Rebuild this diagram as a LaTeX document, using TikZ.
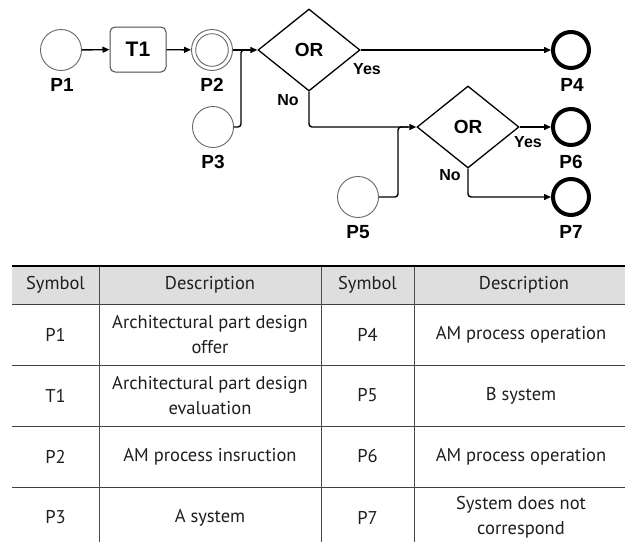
\documentclass[tikz,border=0pt]{standalone}
\usepackage{fontspec}
\setmainfont{PT Sans}
\newfontfamily\arial{Liberation Sans}
\usetikzlibrary{shapes.geometric,arrows.meta}
\tikzset{
  place/.style={circle, draw=black!60, line width=0.9pt, minimum size=41pt, inner sep=0pt},
  final/.style={circle, draw=black, line width=4pt, minimum size=36pt, inner sep=0pt},
  trans/.style={rectangle, rounded corners=5pt, draw=black!70, line width=1pt, minimum width=56pt, minimum height=45pt, inner sep=0pt, font=\arial\bfseries\fontsize{21}{21}\selectfont},
  gate/.style={diamond, draw=black, line width=1.3pt, minimum width=102pt, minimum height=82pt, inner sep=0pt, font=\arial\bfseries\fontsize{19}{19}\selectfont},
  lab/.style={inner sep=0pt, font=\arial\bfseries\fontsize{19}{19}\selectfont},
  yn/.style={inner sep=0pt, font=\arial\bfseries\fontsize{16}{16}\selectfont},
  conn/.style={draw=black, line width=1.4pt, -{Triangle[length=7pt,width=6pt]}},
  plain/.style={draw=black, line width=1.4pt},
  cell/.style={inner sep=0pt, align=center, text=black!88, font=\fontsize{18.5}{25}\selectfont},
  hline/.style={draw=black!75, line width=1pt},
  vline/.style={draw=black!70, line width=1pt}
}
\begin{document}
\begin{tikzpicture}[x=1pt,y=-1pt]
\useasboundingbox (0,0) rectangle (625,542);
\fill[white] (0,0) rectangle (625,542);

% ---------- diagram ----------
\node[place] (p1) at (61,50) {};
\node[trans] (t1) at (138,49.5) {T1};
\node[place] (p2) at (212,50) {};
\draw[black!60, line width=0.9pt] (p2.center) circle[radius=16.3];
\node[place] (p3) at (213,127) {};
\node[gate] (or1) at (309,50) {OR};
\node[gate] (or2) at (468,127) {OR};
\node[final] (p4) at (571,50) {};
\node[place] (p5) at (358,197) {};
\node[final] (p6) at (571,127) {};
\node[final] (p7) at (571,197) {};

\node[lab] (lp1) at (62,85) {P1};
\node[lab] (lp2) at (212,85) {P2};
\node[lab] (lp3) at (213,162) {P3};
\node[lab] (lp4) at (572,85) {P4};
\node[lab] (lp5) at (358,232) {P5};
\node[lab] (lp6) at (571,162) {P6};
\node[lab] (lp7) at (571,232) {P7};

\node[yn] (yes1) at (367,69) {Yes};
\node[yn] (no1) at (288,100) {No};
\node[yn] (yes2) at (528,142) {Yes};
\node[yn] (no2) at (450,175) {No};

\coordinate (j1) at (241,50);
\coordinate (j2) at (398,127);

\draw[conn] (p1) -- (t1);
\draw[conn] (t1) -- (p2);
\draw[conn] (p2) -- (or1.west);
\draw[plain, rounded corners=3pt] (p3.east) -| (j1) -- ([xshift=-8pt]or1.west);
\draw[conn] (or1.east) -- (p4.west);
\draw[conn, rounded corners=3pt] (or1.south) |- (or2.west);
\draw[plain, rounded corners=3pt] (p5.east) -| (j2) -- ([xshift=-8pt]or2.west);
\draw[conn] (or2.east) -- (p6.west);
\draw[conn, rounded corners=3pt] (or2.south) |- (p7.west);

% ---------- table ----------
\fill[black!13] (12,266) rectangle (625,304);
\draw[hline] (12,304) -- (625,304);
\draw[hline] (12,365) -- (625,365);
\draw[hline] (12,426) -- (625,426);
\draw[hline] (12,487) -- (625,487);
\draw[vline] (99,266) -- (99,542);
\draw[vline] (321,266) -- (321,542);
\draw[vline] (414,266) -- (414,542);
\draw[black, line width=2.5pt] (12,266) -- (625,266);

\node[cell] (h1) at (55.5,285) {Symbol};
\node[cell] (h2) at (210,285) {Description};
\node[cell] (h3) at (367.5,285) {Symbol};
\node[cell] (h4) at (524,285) {Description};

\node[cell] (a1) at (55.5,334.5) {P1};
\node[cell] (b1) at (210,334.5) {Architectural part design\\offer};
\node[cell] (c1) at (367.5,334.5) {P4};
\node[cell] (d1) at (521,334.5) {AM process operation};

\node[cell] (a2) at (55.5,395.5) {T1};
\node[cell] (b2) at (210,395.5) {Architectural part design\\evaluation};
\node[cell] (c2) at (367.5,395.5) {P5};
\node[cell] (d2) at (521,395.5) {B system};

\node[cell] (a3) at (55.5,456.5) {P2};
\node[cell] (b3) at (210,456.5) {AM process insruction};
\node[cell] (c3) at (367.5,456.5) {P6};
\node[cell] (d3) at (521,456.5) {AM process operation};

\node[cell] (a4) at (55.5,517.5) {P3};
\node[cell] (b4) at (210,517.5) {A system};
\node[cell] (c4) at (367.5,517.5) {P7};
\node[cell] (d4) at (521,517.5) {System does not\\correspond};
\end{tikzpicture}
\end{document}
